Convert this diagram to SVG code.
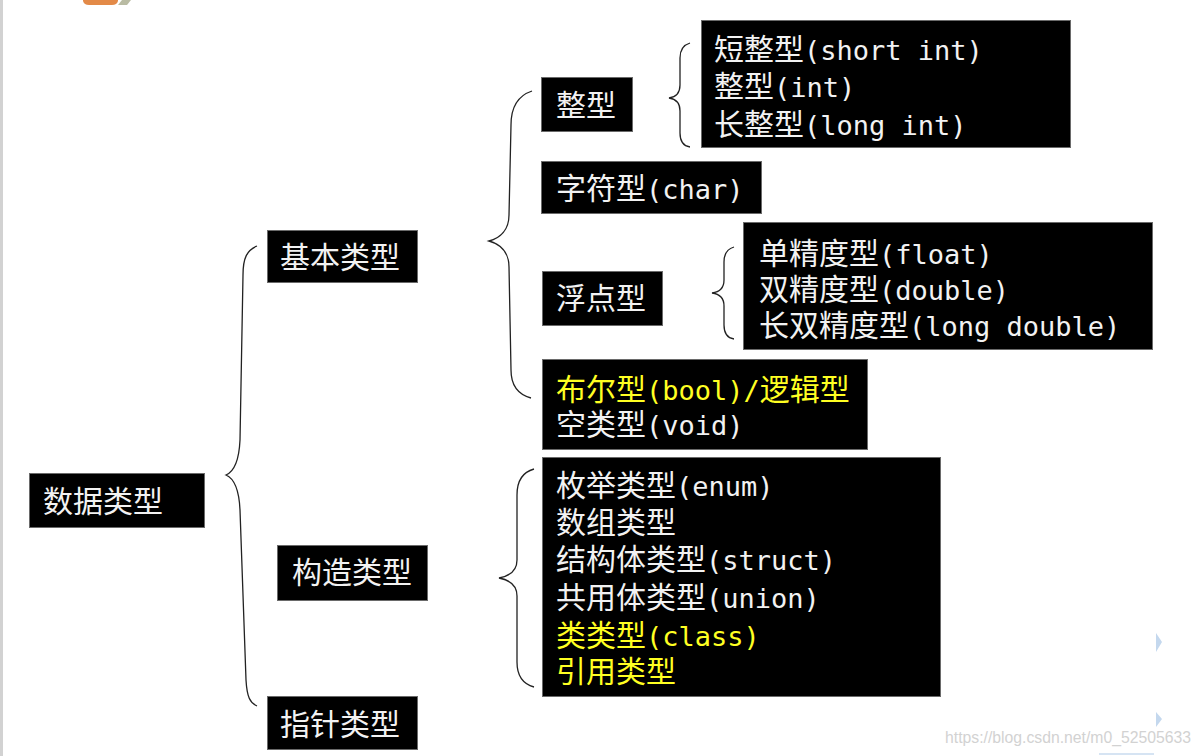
<svg xmlns="http://www.w3.org/2000/svg" width="1202" height="756" viewBox="0 0 1202 756">
<style>
.box{fill:#000;stroke:#6a6a6a;stroke-width:1}
.t{font-family:"Noto Sans CJK SC","Microsoft YaHei",sans-serif;font-size:30px;fill:#f2f2f2}
.y{fill:#ffff22}
.m{font-family:"DejaVu Sans Mono","Liberation Mono",monospace;font-size:27px}
.brace{fill:none;stroke:#222;stroke-width:1.3}
</style>
<rect width="1202" height="756" fill="#fff"/>
<rect x="0" y="0" width="3" height="756" fill="#d2d2d2"/>
<path d="M83,0 L118,0 L118,1 Q117,5 112,5 L89,5 Q84,5 83,1 Z" fill="#e38a48"/>
<path d="M122,0 L131,0 L127,5 L118,5 Z" fill="#b9bba3"/>

<g id="connectors">
<path class="brace" d="M257,246 C247,250 243,258 243,275 L240,440 C239,462 233,472 226,475 C233,478 239,488 240,510 L246,680 C247,697 250,703 257,706"/>
<path class="brace" d="M532,91 C520,95 511,105 511,125 L509,215 C509,230 500,238 489,241 C500,244 509,252 509,267 L511,370 C511,388 520,395 531,398"/>
<path class="brace" d="M690,43 C683,45 680,50 680,58 L680,85 C680,93 676,97 669,98 C676,99 680,103 680,111 L680,133 C680,141 683,146 690,147"/>
<path class="brace" d="M734,247 C727,249 724,254 724,262 L724,280 C724,288 720,292 712,293 C720,294 724,298 724,306 L724,325 C724,333 727,338 734,339"/>
<path class="brace" d="M534,469 C523,472 517,480 517,495 L517,560 C517,570 510,576 499,578 C510,580 517,586 517,596 L517,662 C517,677 523,684 534,687"/>
</g>

<g id="n-data">
<rect class="box" x="29.5" y="473.5" width="175" height="54"/>
<text class="t" x="43" y="512">数据类型</text>
</g>
<g id="n-basic">
<rect class="box" x="267.5" y="230.5" width="150" height="52"/>
<text class="t" x="280" y="268">基本类型</text>
</g>
<g id="n-construct">
<rect class="box" x="277.5" y="545.5" width="150" height="55"/>
<text class="t" x="292" y="583">构造类型</text>
</g>
<g id="n-pointer">
<rect class="box" x="267.5" y="696.5" width="150" height="53"/>
<text class="t" x="280" y="735">指针类型</text>
</g>

<g id="n-int">
<rect class="box" x="541.5" y="77.5" width="91" height="54"/>
<text class="t" x="556" y="116">整型</text>
</g>
<g id="n-int-list">
<rect class="box" x="701.5" y="20.5" width="369" height="127"/>
<text class="t" x="714" y="60">短整型<tspan class="m">(short int)</tspan></text>
<text class="t" x="714" y="97">整型<tspan class="m">(int)</tspan></text>
<text class="t" x="714" y="135">长整型<tspan class="m">(long int)</tspan></text>
</g>
<g id="n-char">
<rect class="box" x="541.5" y="161.5" width="220" height="52"/>
<text class="t" x="556" y="199">字符型<tspan class="m">(char)</tspan></text>
</g>
<g id="n-float">
<rect class="box" x="542.5" y="271.5" width="120" height="54"/>
<text class="t" x="556" y="309">浮点型</text>
</g>
<g id="n-float-list">
<rect class="box" x="743.5" y="222.5" width="409" height="127"/>
<text class="t" x="759" y="264">单精度型<tspan class="m">(float)</tspan></text>
<text class="t" x="759" y="300">双精度型<tspan class="m">(double)</tspan></text>
<text class="t" x="759" y="336">长双精度型<tspan class="m">(long double)</tspan></text>
</g>
<g id="n-bool-void">
<rect class="box" x="542.5" y="359.5" width="325" height="90"/>
<text class="t y" x="556" y="400">布尔型<tspan class="m">(bool)/</tspan>逻辑型</text>
<text class="t" x="556" y="435">空类型<tspan class="m">(void)</tspan></text>
</g>
<g id="n-construct-list">
<rect class="box" x="542.5" y="457.5" width="398" height="239"/>
<text class="t" x="556" y="496">枚举类型<tspan class="m">(enum)</tspan></text>
<text class="t" x="556" y="533">数组类型</text>
<text class="t" x="556" y="570">结构体类型<tspan class="m">(struct)</tspan></text>
<text class="t" x="556" y="608">共用体类型<tspan class="m">(union)</tspan></text>
<text class="t y" x="556" y="646">类类型<tspan class="m">(class)</tspan></text>
<text class="t y" x="556" y="682">引用类型</text>
</g>

<path d="M1156,633 L1162,642 L1156,652 Z" fill="#c4d8ee"/>
<path d="M1156,712 L1162,719 L1156,727 Z" fill="#c4d8ee"/>
<text x="945" y="743" font-family="'Liberation Sans',sans-serif" font-size="16" fill="#d2d2d2" textLength="246" lengthAdjust="spacingAndGlyphs">https://blog.csdn.net/m0_52505633</text>
<rect x="1099" y="753" width="55" height="2" fill="#d6e4f3"/>
</svg>
